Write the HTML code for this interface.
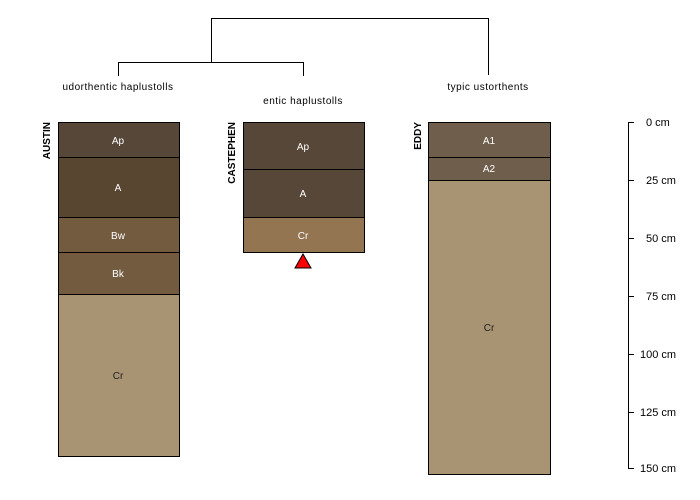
<!DOCTYPE html>
<html><head><meta charset="utf-8"><style>body{margin:0;background:#fff}svg{display:block}</style></head><body>
<svg width="700" height="500" xmlns="http://www.w3.org/2000/svg" font-family="Liberation Sans, sans-serif">
<g stroke="#000" stroke-width="1" fill="none">
<path d="M211.5 62V18.5H488.5V75"/>
<path d="M118.5 76V62.5H303.5V76"/>
</g>
<g font-size="10" fill="#000" text-anchor="middle" letter-spacing="0.5">
<text x="118" y="90">udorthentic haplustolls</text>
<text x="303" y="104">entic haplustolls</text>
<text x="488" y="90">typic ustorthents</text>
</g>
<g stroke="#000" stroke-width="1">
<rect x="58.5" y="122.5" width="121" height="35" fill="#574738"/>
<rect x="58.5" y="157.5" width="121" height="60" fill="#594630"/>
<rect x="58.5" y="217.5" width="121" height="35" fill="#735b40"/>
<rect x="58.5" y="252.5" width="121" height="42" fill="#735b40"/>
<rect x="58.5" y="294.5" width="121" height="162" fill="#a89373"/>
<rect x="243.5" y="122.5" width="121" height="47" fill="#574738"/>
<rect x="243.5" y="169.5" width="121" height="48" fill="#574738"/>
<rect x="243.5" y="217.5" width="121" height="35" fill="#937551"/>
<rect x="428.5" y="122.5" width="122" height="35" fill="#6f5e4c"/>
<rect x="428.5" y="157.5" width="122" height="23" fill="#6f5e4c"/>
<rect x="428.5" y="180.5" width="122" height="294" fill="#a89373"/>
<polygon points="303,254 295,268 311,268" fill="#ff0000"/>
</g>
<g font-size="10" text-anchor="middle" fill="#fff">
<text x="118" y="144">Ap</text><text x="118" y="191">A</text><text x="118" y="239">Bw</text><text x="118" y="277">Bk</text>
<text x="118" y="379" fill="#222">Cr</text>
<text x="303" y="150">Ap</text><text x="303" y="197">A</text><text x="303" y="239">Cr</text>
<text x="489" y="144">A1</text><text x="489" y="172">A2</text>
<text x="489" y="331" fill="#222">Cr</text>
</g>
<g font-size="10" font-weight="bold" text-anchor="end" fill="#000">
<text transform="translate(50,122) rotate(-90)">AUSTIN</text>
<text transform="translate(235,122) rotate(-90)">CASTEPHEN</text>
<text transform="translate(421,122) rotate(-90)">EDDY</text>
</g>
<g stroke="#000" stroke-width="1">
<path d="M628.5 122V468"/>
<path d="M628 122.5H634M628 180.5H634M628 238.5H634M628 296.5H634M628 354.5H634M628 412.5H634M628 468.5H634"/>
</g>
<g font-size="11" fill="#000">
<text x="646" y="126">0 cm</text><text x="646" y="184">25 cm</text><text x="646" y="242">50 cm</text>
<text x="646" y="300">75 cm</text><text x="640" y="358">100 cm</text><text x="640" y="416">125 cm</text><text x="640" y="472">150 cm</text>
</g>
</svg>
</body></html>
